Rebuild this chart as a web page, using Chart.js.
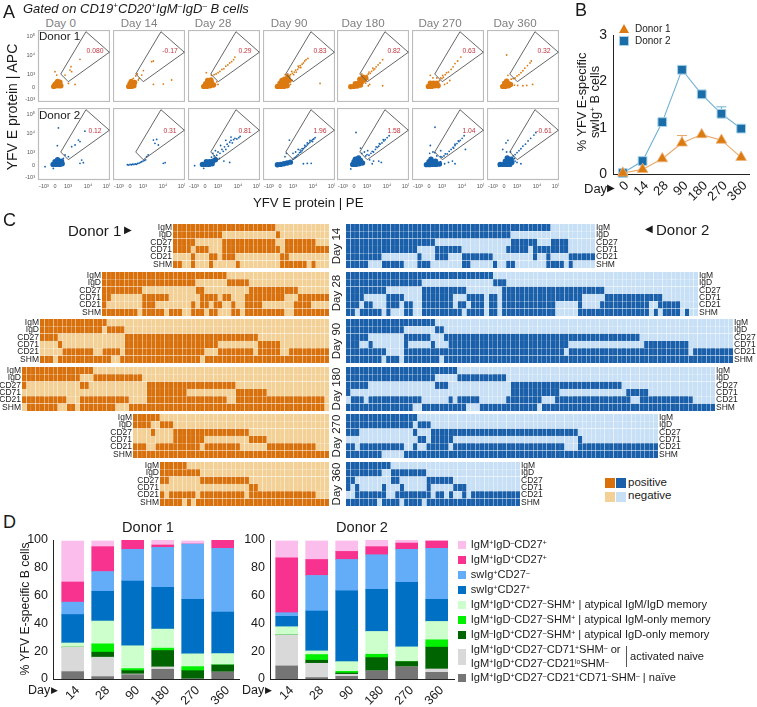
<!DOCTYPE html>
<html>
<head>
<meta charset="utf-8">
<script src="https://cdn.jsdelivr.net/npm/chart.js@4"></script>
<style>
  html, body { margin: 0; background: #fff; }
  #page { position: relative; width: 757px; height: 707px; overflow: hidden; font-family: "Liberation Sans", Arial, sans-serif; color: #1a1a1a; }
  canvas { position: absolute; }
  .t { position: absolute; white-space: nowrap; line-height: 1; }
  sup { font-size: 62%; line-height: 0; vertical-align: 0.5em; }
</style>
</head>
<body>
<div id="page"></div>
<script>
// panel A - values in axis display units (0 = 0, 1 = 10^3, 2.5 = 10^4, 4 = 10^5)
const days = ['Day 0', 'Day 14', 'Day 28', 'Day 90', 'Day 180', 'Day 270', 'Day 360'];
const donor1Freq = ['0.080', '-0.17', '0.29', '0.83', '0.82', '0.63', '0.32'];
const donor2Freq = ['0.12', '0.31', '0.81', '1.96', '1.58', '1.04', '-0.61'];
const gate = [[2.38, 4.25], [4.18, 2.67], [1.02, 0.41], [0.44, 1.0], [2.38, 4.25]];
const xTickValues = [-0.85, 0, 1, 1.45, 1.72, 2.05, 2.27, 2.54, 2.99, 3.26, 3.59, 3.81, 4];
const xTickLabels = ['-10³', '0', '10³', '', '', '', '', '10⁴', '', '', '', '', '10⁵'];
const yTickValues = [-0.92, 0, 1, 2.46, 3.85];
const yTickLabels = ['-10³', '0', '10³', '10⁴', '10⁵'];

const donor1Core = [
  [[-0.1,0.05],[0.1,0.1],[0.3,0.1],[0.1,0.3],[0.3,0.25],[0.45,0.1],[0,0.2],[0.2,0.42],[0.38,0.38]],
  [[-0.1,0.05],[0.1,0.05],[0.3,0.1],[0,0.25],[0.2,0.3],[0.35,0.35],[0.1,0.42]],
  [[-0.1,0.05],[0.15,0.05],[0.4,0.1],[0.65,0.15],[0.05,0.25],[0.3,0.3],[0.5,0.35],[0.2,0.5],[0.45,0.55]],
  [[-0.2,0.05],[0.05,0.05],[0.3,0.05],[0.55,0.1],[0,0.3],[0.25,0.3],[0.5,0.35],[0.7,0.5],[0.35,0.6],[0.6,0.75],[0.15,0.5]],
  [[-0.25,0.03],[0,0.05],[0.25,0.08],[0.5,0.15],[0.1,0.25],[0.35,0.3],[0.6,0.4],[0.8,0.55],[0.45,0.6],[0.7,0.75],[0.9,0.7]],
  [[-0.05,0.05],[0.2,0.05],[0.45,0.1],[0.7,0.1],[0.1,0.3],[0.35,0.3],[0.6,0.3]],
  [[-0.1,0.05],[0.1,0.05],[0.35,0.1],[0.05,0.3],[0.3,0.3],[0.5,0.2],[0.2,0.45]]
];
const donor1Sparse = [
  [[1.23,1.56],[1.15,1.3],[0.77,0.92],[1.92,2.13],[0,1.18],[1.03,0.28],[1.54,0.2],[0.13,0.92],[1.28,1.18]],
  [[0.9,0.92],[0.56,1],[0.25,0.67],[0.38,0.46],[1.03,1.26],[0.64,0.54],[1.67,1.95],[1.8,2],[1.8,0.2],[2.56,0.23],[3.2,0.54],[0.7,0.67],[0.44,0.85]],
  [[0.7,0.95],[0.85,1],[1,1.1],[1.15,1.2],[1.3,1.35],[1.45,1.4],[1.6,1.6],[1.75,1.7],[1.9,1.85],[2.05,1.95],[2.2,2.1],[2.3,2.3],[0.5,0.9],[0.1,1.1],[0.9,0.4],[1,0.2],[0.8,0.2]],
  [[0.8,0.95],[0.95,1.05],[1.1,1.15],[1.2,1.3],[1.35,1.35],[1.45,1.5],[1.55,1.65],[1.7,1.75],[1.8,1.85],[1.9,2],[2,2.1],[2.15,2.2],[1.05,0.95],[1.25,1.15],[1.6,1.5],[1.4,1.6],[0.9,1.2],[3.08,0.28],[0.6,1],[0.4,0.95],[0.95,0.5],[0.8,0.2]],
  [[1,0.9],[1.1,1],[1.25,1.05],[1.35,1.2],[1.5,1.3],[1.6,1.4],[1.7,1.55],[1.85,1.7],[2,1.85],[2.2,2.1],[1.15,1.15],[1.45,1.45],[1.05,0.6],[1.1,0.1],[1.2,0.2],[2.2,0.1],[0.6,1],[0.9,0.3]],
  [[0.6,0.7],[0.9,0.7],[1,0.65],[1.1,0.75],[1.05,0.9],[1.25,0.95],[1.35,1.1],[1.5,1.15],[1.7,1.35],[1.85,1.55],[2,1.8],[2.2,2],[2.45,2.3],[0.1,0.9],[0.3,0.7],[0.8,0.5],[1.2,0.2],[1.4,0.3],[1.6,0.5]],
  [[0.7,0.65],[0.85,0.7],[1,0.85],[1.15,0.95],[1.3,1.1],[1.45,1.25],[1.6,1.45],[1.8,1.65],[2,1.85],[2.1,2],[0.3,0.9],[0.8,0.15],[1.05,0.12],[1.45,0.1],[1.75,0.12],[2.2,0.2],[0.55,0.6],[0.2,2.46]]
];
const donor2Core = [
  [[-0.15,0.05],[0.1,0.05],[0.35,0.05],[0.55,0.1],[0,0.25],[0.25,0.25],[0.5,0.3],[0.2,0.4]],
  [],
  [[-0.2,0.05],[0.05,0.05],[0.3,0.05],[0.55,0.1],[0.1,0.25],[0.35,0.25],[0.6,0.3],[0.8,0.4]],
  [[-0.2,0.02],[0.05,0.05],[0.3,0.1],[0.55,0.15],[0.8,0.22]],
  [[-0.1,0.05],[0.15,0.05],[0.4,0.1],[0.65,0.15],[0,0.25],[0.25,0.3],[0.5,0.35],[0.1,0.45],[0.35,0.55]],
  [[-0.2,0.03],[0.05,0.03],[0.3,0.05],[0.55,0.05],[0.8,0.08],[0,0.25],[0.25,0.28],[0.5,0.3],[0.15,0.45]],
  [[-0.3,0.05],[-0.05,0.05],[0.2,0.05],[0.45,0.05],[0.6,0.2],[0.1,0.3],[0.35,0.3],[0.55,0.45],[0.25,0.55]]
];
const donor2Sparse = [
  [[0.26,2.85],[0.18,1.49],[-0.77,-0.13],[2.3,2.6],[1.92,1.8],[1.54,1.54],[1.8,1.92],[1.28,1.41],[1.03,0.64],[0.77,0.77],[0.64,0.51],[1.92,0.13],[2.18,0.18],[2.05,0.38],[-0.13,-0.26]],
  [[-0.2,0.02],[-0.1,0],[0,0.05],[0.1,0.02],[0.2,0.06],[0.3,0.04],[0.4,0.08],[0.5,0.06],[0.6,0.12],[0.7,0.15],[0.8,0.2],[0.9,0.25],[1,0.3],[1.1,0.35],[1.2,0.4],[2.05,1.97],[1.92,1.67],[2.18,1.54],[1.8,1.92],[1.28,0.64],[1.4,0.77],[2.56,0.13],[2.7,0.18]],
  [[0.7,0.7],[0.9,0.75],[1,1],[1.15,0.9],[1.3,1.2],[1.4,1.05],[1.5,1.4],[1.6,1.2],[1.7,1.6],[1.8,1.45],[1.9,1.75],[2,1.9],[2.1,1.7],[2.2,1.95],[2.3,2.05],[2.45,2],[2.6,2.1],[2.7,2.2],[1.2,1.5],[1.6,1.9],[2,2.15],[0.8,1.1],[0.6,0.9],[1.1,0.5],[0.5,0.6],[-0.8,-0.05],[-0.1,-0.25],[1.45,0.3],[1.9,0.2]],
  [[1,0.45],[1.1,0.55],[1.2,0.6],[1.3,0.7],[1.4,0.8],[1.5,0.95],[1.6,1],[1.7,1.1],[1.8,1.25],[1.9,1.35],[2,1.45],[2.1,1.55],[2.2,1.65],[2.3,1.75],[2.4,1.85],[2.5,1.95],[2.6,2],[2.7,2.1],[1.7,1.25],[1.9,1.5],[2.1,1.7],[2.3,1.9],[1.55,1.15],[2.5,1.8],[0.72,1.92],[0.5,0.9],[0.38,0.64],[1,0.9],[1.2,1],[1.4,1.2],[1.8,0.1],[2.4,0.13],[2.1,0.12],[-0.25,-0.1]],
  [[0.9,0.7],[1,0.8],[1.15,0.75],[1.3,0.9],[1.4,1.05],[1.5,1],[1.65,1.2],[1.8,1.35],[1.9,1.45],[2,1.6],[2.15,1.7],[2.3,1.85],[2.4,1.95],[2.55,2.1],[2.7,2.25],[1.7,1.4],[1.95,1.65],[2.25,1.95],[1.05,1.1],[0.8,1],[0.6,0.9],[0.5,1.3],[0.15,2.5],[1.5,0.3],[1.9,0.3],[2.1,0.2],[1.2,0.4],[1.4,0.1],[-0.25,-0.3]],
  [[0.9,0.65],[1,0.6],[1.15,0.7],[1.25,0.85],[1.4,0.85],[1.55,1.05],[1.7,1.2],[1.85,1.35],[2,1.5],[2.15,1.65],[2.3,1.8],[2.4,1.9],[2.55,2.05],[2.7,2.25],[2,1.6],[2.25,1.85],[1.9,1.3],[0.46,2.9],[0.1,1.5],[0.3,1],[0.05,0.9],[0.6,0.7],[0.45,0.95],[0.9,1.1],[1.2,0.1],[1.5,0.2],[1.8,0.3],[2,0.1],[2.8,1.2],[0.9,0.25]],
  [[0.7,0.7],[0.85,0.8],[1,0.95],[1.15,1.1],[1.3,1.25],[1.45,1.45],[1.65,1.6],[1.85,1.85],[2.05,2.05],[2.3,2.3],[2.45,2.5],[0.3,1.9],[0.15,1.7],[-0.1,1.2],[0.2,1],[0.5,1],[0.85,0.3],[1,0.2],[1.3,0.1],[0.8,0.5],[-0.4,-0.1]]
];

// panel B
const bDays = ['0', '14', '28', '90', '180', '270', '360'];
const bDonor1 = [0.02, 0.1, 0.33, 0.67, 0.85, 0.73, 0.36];
const bDonor2 = [0.02, 0.28, 1.12, 2.25, 1.72, 1.3, 0.98];
const bDonor1Err = [0, 0, 0, 0.16, 0, 0, 0];
const bDonor2Err = [0, 0, 0, 0, 0, 0.15, 0];

// panel C - run lengths per marker row, first run is positive
const markers = ['IgM', 'IgD', 'CD27', 'CD71', 'CD21', 'SHM'];
const cDays = ['Day 14', 'Day 28', 'Day 90', 'Day 180', 'Day 270', 'Day 360'];
const cDonor1Cols = [35, 51, 65, 69, 44, 38];
const cDonor2Cols = [56, 79, 87, 83, 70, 39];
const cDonor1 = [
  [[23,12],[11,12,1,11],[5,6,12,2,7,3],[4,1,3,3,13,1,10],[0,4,1,3,2,1,3,10,2,9],[2,2,1,3,1,5,1,9,6,1,1,3]],
  [[28,23],[21,7,5,18],[9,12,2,10,11,7],[2,7,6,7,4,1,2,3,9,3,7],[1,8,3,8,1,1,2,1,2,2,1,2,4,7,4,4],[8,1,5,1,3,2,3,1,2,3,2,1,9,2,8]],
  [[15,50],[14,1,4,46],[4,15,30,16],[0,4,1,14,21,9,5,11],[0,5,7,2,4,1,18,3,8,1,5,2,9],[3,1,12,2,18,1,28]],
  [[16,53],[13,3,11,42],[1,12,2,13,20,21],[0,28,9,11,7,14],[10,3,11,4,18,2,20,1],[0,1,7,2,2,1,8,3,44,1]],
  [[6,38],[4,2,3,35],[0,4,1,4,17,18],[0,9,7,10,4,14],[3,2,10,1,8,6,11,3],[44]],
  [[6,32],[9,29],[2,7,11,18],[0,20,2,16],[1,1,6,1,10,1,15,3],[5,1,1,1,30]]
];
const cDonor2 = [
  [[46,10],[37,19],[20,17,6,3,4,6],[16,4,6,10,5,1,8,6],[8,8,1,3,3,3,7,9,1,2,1,4,5],[5,3,5,3,3,7,2,5,1,2,2,7,4,1,1,5]],
  [[33,46],[17,16,3,43],[9,8,10,8,23,21],[4,5,4,4,7,3,4,1,2,1,18,5,13,8],[3,1,2,3,3,1,2,2,7,1,2,1,3,1,2,1,12,5,1,4,11,2,5,4],[2,1,5,1,1,3,2,2,9,1,4,1,2,1,12,5,16,1,1,1,4,1,1,2]],
  [[20,67],[13,7,2,65],[5,8,6,3,44,21],[3,2,1,7,1,5,1,3,27,17,10,10],[9,4,36,1,27,1,9],[8,1,3,1,8,1,65]],
  [[25,58],[20,5,11,47],[5,15,3,14,25,21],[1,36,11,15,5,15],[0,1,3,1,12,6,1,1,5,6,8,3,17,2,12,5],[15,2,10,3,13,1,39]],
  [[16,54],[15,1,3,51],[3,12,1,3,33,18],[0,16,2,1,5,28,1,17],[2,1,10,2,1,2,5,1,25,3,18],[8,5,57]],
  [[10,29],[8,2,8,21],[2,8,2,6,6,15],[1,1,1,5,1,3,1,5,1,5,3,12],[0,2,7,2,8,1,2,1,1,2,1,1,11],[7,1,4,1,4,1,21]]
];

// panel D - stacks from bottom to top
const dDays = ['14', '28', '90', '180', '270', '360'];
const subsetColors = ['#757575', '#d9d9d9', '#006400', '#00f000', '#ccffcc', '#0070c4', '#63adf8', '#f7338f', '#fbbdeb'];
const naive1 = [5.3, 1.7, 3.1, 7, 0, 5];
const activated1 = [17.6, 14, 0.5, 1.7, 0, 0];
const igdOnly1 = [0, 3.6, 2.4, 11.8, 6, 5.1];
const igmOnly1 = [0, 6, 1.5, 1.7, 2.9, 0];
const igmIgd1 = [3, 16.4, 16.4, 13.7, 9.2, 8.2];
const swCd27Pos1 = [20.5, 21.4, 46.5, 30.1, 39.2, 29.9];
const swCd27Neg1 = [8.9, 14.2, 22.9, 28.7, 39.8, 45.8];
const igmIgdCd27_1 = [14.5, 17.9, 6.7, 1.7, 0, 6];
const igmCd27_1 = [29.4, 4.1, 0, 3.6, 2.2, 0];
const naive2 = [9.4, 1, 1.9, 5.8, 8.7, 4.8];
const activated2 = [22.2, 10.3, 1.5, 0, 0, 2.4];
const igdOnly2 = [0, 2.2, 0.9, 9.6, 3.8, 15.7];
const igmOnly2 = [0, 4.1, 1.2, 2.4, 0, 5.3];
const igmIgd2 = [6, 2.6, 7, 16.4, 10.6, 13.2];
const swCd27Pos2 = [7.5, 28.7, 50.9, 30.4, 46.5, 15.9];
const swCd27Neg2 = [2.6, 25.6, 22.6, 24.8, 23.7, 36.7];
const igmIgdCd27_2 = [39.5, 11.5, 5.8, 5.8, 4.5, 5.3];
const igmCd27_2 = [12.1, 13.3, 7.5, 4.8, 2.2, 0];

const page = document.getElementById('page');
Chart.defaults.font.family = '"Liberation Sans", Arial, sans-serif';
Chart.defaults.animation = false;
Chart.defaults.responsive = false;
Chart.defaults.layout.autoPadding = false;
Chart.defaults.plugins.legend.display = false;
Chart.defaults.plugins.tooltip.enabled = false;

function addCanvas(x, y, w, h) {
  const c = document.createElement('canvas');
  c.width = w; c.height = h;
  c.style.left = x + 'px'; c.style.top = y + 'px';
  c.style.width = w + 'px'; c.style.height = h + 'px';
  page.appendChild(c);
  return c;
}

// ax/ay are translate percentages, so the text can be anchored by its centre
function label(html, x, y, size, extra = '', ax = 0, ay = -50, rot = 0) {
  const d = document.createElement('div');
  d.className = 't';
  d.innerHTML = html;
  d.style.cssText = `left:${x}px;top:${y}px;font-size:${size}px;transform:translate(${ax}%,${ay}%)` + (rot ? ` rotate(${rot}deg)` : '') + ';' + extra;
  page.appendChild(d);
  return d;
}

// the axes keep the exact size given, no room for half a tick label
function fixAxis(s, width, height) {
  if (width !== null) s.width = width;
  if (height !== null) s.height = height;
  s.paddingLeft = s.paddingRight = s.paddingTop = s.paddingBottom = 0;
}

const boxPlugin = {
  id: 'box',
  beforeDatasetsDraw(chart) {
    const a = chart.chartArea, ctx = chart.ctx;
    ctx.save();
    ctx.strokeStyle = '#bcbcbc';
    ctx.lineWidth = 1.2;
    ctx.strokeRect(a.left + 0.5, a.top + 0.5, a.width - 1, a.height - 1);
    ctx.restore();
  }
};

function toPoints(list) { return list.map(p => ({ x: p[0], y: p[1] })); }

const lefts = [38, 113, 188, 263, 337, 412, 487];
const dayCenters = [60.7, 139, 213, 289, 363, 440, 515];

function flowPanel(col, row, core, sparse, color) {
  const size = 72;
  const top = row ? 108 : 30;
  const hasY = col === 0, hasX = row === 1;
  const yAxis = hasY ? 20 : 0, xAxis = hasX ? 14 : 0;
  new Chart(addCanvas(lefts[col] - yAxis, top, size + yAxis, size + xAxis), {
    type: 'scatter',
    data: {
      datasets: [
        { data: toPoints(gate), showLine: true, borderColor: '#555', borderWidth: 0.9, pointRadius: 0, tension: 0, order: 0 },
        { data: toPoints(sparse), backgroundColor: color, pointRadius: 0.9, borderWidth: 0, order: 1 },
        { data: toPoints(core), backgroundColor: color, pointRadius: 2.7, borderWidth: 0, order: 2 }
      ]
    },
    options: {
      layout: { padding: 0 },
      scales: {
        x: {
          type: 'linear', min: -1.31, max: 4.23, display: hasX,
          grid: { display: false, drawTicks: true, tickLength: 2, tickColor: '#777' },
          border: { display: false },
          afterBuildTicks: s => { s.ticks = xTickValues.map(v => ({ value: v })); },
          afterFit: s => fixAxis(s, null, xAxis),
          ticks: { autoSkip: false, maxRotation: 0, padding: 1, color: '#555', font: { size: 5.5 }, callback: (v, i) => xTickLabels[i] }
        },
        y: {
          type: 'linear', min: -1.15, max: 4.38, display: hasY,
          grid: { display: false, tickLength: 2, tickColor: '#777' },
          border: { display: false },
          afterBuildTicks: s => { s.ticks = yTickValues.map(v => ({ value: v })); },
          afterFit: s => fixAxis(s, yAxis, null),
          ticks: { autoSkip: false, padding: 1, color: '#555', font: { size: 5.5 }, callback: (v, i) => yTickLabels[i] }
        }
      }
    },
    plugins: [boxPlugin]
  });
}

for (let i = 0; i < days.length; i++) {
  flowPanel(i, 0, donor1Core[i], donor1Sparse[i], '#dc7a12');
  flowPanel(i, 1, donor2Core[i], donor2Sparse[i], '#1763ad');
  label(days[i], dayCenters[i], 23, 11.6, 'color:#808080', -50);
  label(donor1Freq[i], lefts[i] + 57, 51, 6.8, 'color:#c2353f', -50);
  label(donor2Freq[i], lefts[i] + 57, 131, 6.8, 'color:#c2353f', -50);
}
label('Donor 1', 39, 36, 11.6);
label('Donor 2', 39, 115, 11.6);
label('A', 3, 12, 18);
label('Gated on CD19<sup>+</sup>CD20<sup>+</sup>IgM<sup>–</sup>IgD<sup>–</sup> B cells', 23, 8, 13, 'font-style:italic');
label('YFV E protein | APC', 12, 107, 14, '', -50, -50, -90);
label('YFV E protein | PE', 253, 203, 13.2);

// panel B
const errPlugin = {
  id: 'errBars',
  beforeDatasetsDraw(chart) {
    const { ctx, scales } = chart;
    chart.data.datasets.forEach(ds => {
      ds.err.forEach((e, i) => {
        if (!e) return;
        const x = scales.x.getPixelForValue(i);
        const y0 = scales.y.getPixelForValue(ds.data[i].y);
        const y1 = scales.y.getPixelForValue(ds.data[i].y + e);
        ctx.save();
        ctx.strokeStyle = ds.borderColor;
        ctx.lineWidth = 1;
        ctx.beginPath();
        ctx.moveTo(x, y0); ctx.lineTo(x, y1);
        ctx.moveTo(x - 5, y1); ctx.lineTo(x + 5, y1);
        ctx.stroke();
        ctx.restore();
      });
    });
  }
};
const bLeft = 38, bBottom = 33;
new Chart(addCanvas(613 - bLeft, 35 - 8, bLeft + 137, 139 + 8 + bBottom), {
  type: 'line',
  data: {
    datasets: [
      { data: bDonor1.map((v, i) => ({ x: i, y: v })), err: bDonor1Err, borderColor: '#e8a767', borderWidth: 1.1, pointStyle: 'triangle', pointRadius: 6.2, pointBackgroundColor: '#dc7a12', pointBorderColor: '#eeb67c', pointBorderWidth: 0.8, clip: false },
      { data: bDonor2.map((v, i) => ({ x: i, y: v })), err: bDonor2Err, borderColor: '#6fb1d3', borderWidth: 1.1, pointStyle: 'rect', pointRadius: 6.2, pointBackgroundColor: '#1a6da6', pointBorderColor: '#a5d2ea', pointBorderWidth: 1, clip: false }
    ]
  },
  options: {
    layout: { padding: { top: 8, right: 0 } },
    scales: {
      x: {
        type: 'linear', min: -0.5, max: 6.45,
        grid: { display: false, tickLength: 4, tickColor: '#222' },
        border: { color: '#222', width: 1 },
        afterBuildTicks: s => { s.ticks = bDays.map((d, i) => ({ value: i })); },
        afterFit: s => fixAxis(s, null, bBottom),
        ticks: { autoSkip: false, minRotation: 45, maxRotation: 45, padding: 0, labelOffset: 4, color: '#1a1a1a', font: { size: 13 }, callback: (v, i) => bDays[i] }
      },
      y: {
        min: 0, max: 3,
        grid: { display: false, tickLength: 4, tickColor: '#222' },
        border: { color: '#222', width: 1 },
        afterFit: s => fixAxis(s, bLeft, null),
        ticks: { stepSize: 1, padding: 2, color: '#1a1a1a', font: { size: 14 } }
      }
    }
  },
  plugins: [errPlugin]
});
label('B', 575, 10, 18);
label('Donor 1', 635, 29, 10);
label('Donor 2', 635, 41, 10);
label('', 619, 24, 1, 'width:10px;height:9px;background:#dc7a12;clip-path:polygon(50% 0,100% 100%,0 100%)', 0, 0);
label('', 620, 37, 1, 'width:8px;height:8px;background:#1a6da6;outline:1px solid #a5d2ea', 0, 0);
label('% YFV E-specific', 582, 102, 12.8, '', -50, -50, -90);
label('swIg<sup>+</sup> B cells', 595, 102, 12.8, '', -50, -50, -90);
label('Day', 584, 188, 13);
label('▶', 607, 188, 10);

// panel C
function expandRuns(runs, n) {
  const cells = [];
  let on = true;
  runs.forEach(r => { for (let k = 0; k < r; k++) cells.push(on); on = !on; });
  while (cells.length < n) cells.push(cells[cells.length - 1]);
  return cells.slice(0, n);
}

function heatPanel(x, y, w, n, runs, pos, neg, side) {
  const rows = runs.map(r => expandRuns(r, n));
  const axis = 30;
  const datasets = [];
  for (let c = 0; c < n; c++) {
    datasets.push({
      data: rows.map(() => 1),
      backgroundColor: rows.map(r => (r[c] ? pos : neg)),
      borderColor: '#ffffff', borderWidth: 0.35, borderSkipped: false,
      categoryPercentage: 1, barPercentage: 1
    });
  }
  new Chart(addCanvas(side === 'left' ? x - axis : x, y, w + axis, 44), {
    type: 'bar',
    data: { labels: markers, datasets },
    options: {
      indexAxis: 'y',
      layout: { padding: 0 },
      scales: {
        x: { display: false, stacked: true, min: 0, max: n },
        y: {
          position: side, stacked: true,
          grid: { display: false, drawTicks: false },
          border: { display: false },
          afterFit: s => fixAxis(s, axis, null),
          ticks: { autoSkip: false, padding: 1, color: '#222', font: { size: 8.5 } }
        }
      }
    }
  });
}

const cTops = [224, 272, 319, 367, 414, 462];
const cLeftEdge = 329, cRightEdge = 345.7, cellW = 4.45;
const cDayY = [246, 293, 341, 389, 436, 484];
cDays.forEach((d, i) => {
  const w1 = Math.round(cDonor1Cols[i] * cellW), w2 = Math.round(cDonor2Cols[i] * cellW);
  heatPanel(cLeftEdge - w1, cTops[i], w1, cDonor1Cols[i], cDonor1[i], '#d8700c', '#f3d196', 'left');
  heatPanel(cRightEdge, cTops[i], w2, cDonor2Cols[i], cDonor2[i], '#1a5fa9', '#c8e0f6', 'right');
  label(d, 337, cDayY[i], 11.5, '', -50, -50, -90);
});
label('C', 3, 220, 18);
label('Donor 1', 68, 230, 15);
label('▶', 124, 230, 10);
label('◀', 645, 229, 10);
label('Donor 2', 656, 229, 15);
[['#d8700c', 605, 478], ['#1a5fa9', 616, 478], ['#f3d196', 605, 492], ['#c8e0f6', 616, 492]].forEach(s => {
  label('', s[1], s[2], 1, `width:10px;height:10px;background:${s[0]}`, 0, 0);
});
label('positive', 628, 483, 11.5);
label('negative', 628, 496, 11.5);

// panel D
function stackPanel(axisX, firstBar, endX, series) {
  const left = 34, bottom = 29;
  const w = endX - axisX;
  const spacing = 30;
  new Chart(addCanvas(axisX - left, 540 - 6, left + w, 139 + 6 + bottom), {
    type: 'bar',
    data: {
      datasets: series.map((s, i) => ({
        data: s.map((v, k) => ({ x: k, y: v })),
        backgroundColor: subsetColors[i], borderWidth: 0, barThickness: 22, stack: 'a'
      }))
    },
    options: {
      layout: { padding: { top: 6 } },
      scales: {
        x: {
          type: 'linear', stacked: true, offset: false,
          min: -(firstBar - axisX) / spacing, max: (endX - firstBar) / spacing,
          grid: { display: false, offset: false, tickLength: 4, tickColor: '#222' },
          border: { color: '#222', width: 1 },
          afterBuildTicks: s => { s.ticks = dDays.map((d, i) => ({ value: i })); },
          afterFit: s => fixAxis(s, null, bottom),
          ticks: { autoSkip: false, minRotation: 45, maxRotation: 45, padding: 0, labelOffset: 5, color: '#1a1a1a', font: { size: 12.5 }, callback: (v, i) => dDays[i] }
        },
        y: {
          stacked: true, min: 0, max: 100,
          grid: { display: false, tickLength: 4, tickColor: '#222' },
          border: { color: '#222', width: 1 },
          afterFit: s => fixAxis(s, left, null),
          ticks: { stepSize: 20, padding: 1, color: '#1a1a1a', font: { size: 12.5 } }
        }
      }
    }
  });
}
stackPanel(53, 72.7, 240, [naive1, activated1, igdOnly1, igmOnly1, igmIgd1, swCd27Pos1, swCd27Neg1, igmIgdCd27_1, igmCd27_1]);
stackPanel(270, 286.7, 455, [naive2, activated2, igdOnly2, igmOnly2, igmIgd2, swCd27Pos2, swCd27Neg2, igmIgdCd27_2, igmCd27_2]);
label('D', 3, 522, 18);
label('Donor 1', 148, 527, 14.6, '', -50);
label('Donor 2', 362, 527, 14.6, '', -50);
label('% YFV E-specific B cells', 25, 609, 12.2, '', -50, -50, -90);
label('Day', 28, 690, 12.5);
label('▶', 51, 690, 9);
label('Day', 242, 690, 12.5);
label('▶', 265, 690, 9);

const legendRows = [
  ['IgM<sup>+</sup>IgD<sup>–</sup>CD27<sup>+</sup>', 545, 8],
  ['IgM<sup>+</sup>IgD<sup>+</sup>CD27<sup>+</sup>', 560, 7],
  ['swIg<sup>+</sup>CD27<sup>–</sup>', 575, 6],
  ['swIg<sup>+</sup>CD27<sup>+</sup>', 590, 5],
  ['IgM<sup>+</sup>IgD<sup>+</sup>CD27<sup>–</sup>SHM<sup>+</sup> | atypical IgM/IgD memory', 605, 4],
  ['IgM<sup>+</sup>IgD<sup>–</sup>CD27<sup>–</sup>SHM<sup>+</sup> | atypical IgM-only memory', 620, 3],
  ['IgM<sup>–</sup>IgD<sup>+</sup>CD27<sup>–</sup>SHM<sup>+</sup> | atypical IgD-only memory', 635, 2],
  ['IgM<sup>+</sup>IgD<sup>+</sup>CD27<sup>–</sup>CD21<sup>+</sup>CD71<sup>–</sup>SHM<sup>–</sup> | naïve', 678, 0]
];
legendRows.forEach(r => {
  label('', 458, r[1] - 4, 1, `width:8px;height:8px;background:${subsetColors[r[2]]}`, 0, 0);
  label(r[0], 470.7, r[1], 11.1);
});
label('', 458, 649, 1, `width:8px;height:16px;background:${subsetColors[1]}`, 0, 0);
label('IgM<sup>+</sup>IgD<sup>+</sup>CD27<sup>–</sup>CD71<sup>+</sup>SHM<sup>–</sup> or', 470.7, 650, 11.1);
label('IgM<sup>+</sup>IgD<sup>+</sup>CD27<sup>–</sup>CD21<sup>lo</sup>SHM<sup>–</sup>', 470.7, 664, 11.1);
label('', 625.5, 646, 1, 'width:1px;height:21px;background:#555', 0, 0);
label('activated naive', 630, 657, 11.1);
</script>
</body>
</html>
